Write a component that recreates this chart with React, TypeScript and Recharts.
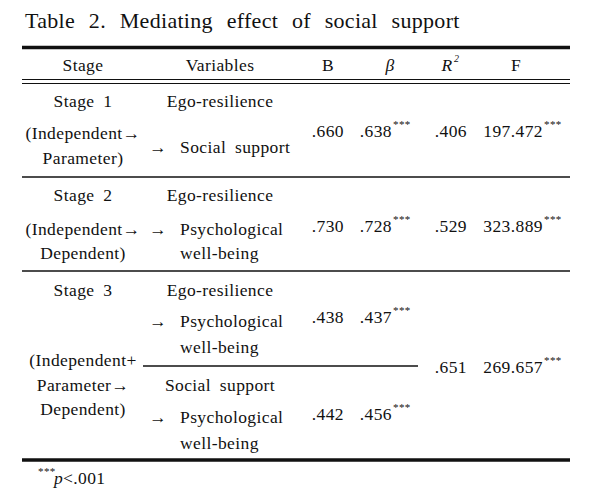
import { Surface, Layer } from "recharts";

// table content
const title = "Table 2. Mediating effect of social support";
const headers = ["Stage", "Variables", "B", "β", "R", "F"];
const stages = ["Stage 1", "Stage 2", "Stage 3"];
const stageNotes = [
  ["(Independent→", "Parameter)"],
  ["(Independent→", "Dependent)"],
  ["(Independent+", "Parameter→", "Dependent)"],
];
const predictors = ["Ego-resilience", "Ego-resilience", "Ego-resilience", "Social support"];
const outcomes = [
  ["Social support"],
  ["Psychological", "well-being"],
  ["Psychological", "well-being"],
  ["Psychological", "well-being"],
];
const bValues = [".660", ".730", ".438", ".442"];
const betaValues = [".638", ".728", ".437", ".456"];
const r2Values = [".406", ".529", ".651"];
const fValues = ["197.472", "323.889", "269.657"];
const stars = "***";
const note = "p<.001";

// layout (page pixels)
const W = 604;
const H = 504;
const LEFT = 22;
const RIGHT = 570;
const SERIF = "Liberation Serif";
const FS = 17.5;
const INK = "#111";

const colStage = 83;
const colVarCenter = 220;
const colArrow = 149;
const colVarText = 180;
const colBEnd = 344;
const colBetaEnd = 392;
const colR2End = 467;
const colFEnd = 543;

const stageY = [101, 195, 290];
const noteY = [
  [133, 158],
  [229, 253],
  [360, 385, 409],
];
const predY = [101, 195, 290, 385];
const outY = [[147], [229, 253], [321, 347], [417, 443]];
const valY = [131, 226, 317, 414];
const fitY = [131, 226, 367];

function label(
  key: string,
  x: number,
  y: number,
  content: string,
  anchor: "start" | "middle" | "end" = "start",
  size: number = FS,
  italic = false
) {
  return (
    <text
      key={key}
      x={x}
      y={y}
      dy="0.355em"
      textAnchor={anchor}
      fontFamily={SERIF}
      fontSize={size}
      fontStyle={italic ? "italic" : undefined}
      fill={INK}
      letterSpacing={0.4}
      wordSpacing={4}
    >
      {content}
    </text>
  );
}

const star = (key: string, x: number, y: number) => label(key, x, y - 7, stars, "start", 11);

const rule = (key: string, x1: number, x2: number, y: number, w: number) => (
  <line key={key} x1={x1} x2={x2} y1={y} y2={y} stroke={INK} strokeWidth={w} />
);

export default function App() {
  return (
    <div style={{ position: "absolute", left: 0, top: 0, fontFamily: SERIF }}>
      <Surface width={W} height={H} viewBox={{ x: 0, y: 0, width: W, height: H }}>
        <rect x={0} y={0} width={W} height={H} fill="#fff" />
        <g fontFamily={SERIF}>
          <text x={25} y={20} dy="0.355em" fontFamily={SERIF} fontSize={22} fill={INK} letterSpacing={0.3} wordSpacing={8}>
            {title}
          </text>

          <Layer>
            {rule("r0", LEFT, RIGHT, 47.5, 3.5)}
            {rule("r1", LEFT, RIGHT, 79.5, 1.2)}
            {rule("r2", LEFT, RIGHT, 83.5, 1.2)}
            {rule("r3", LEFT, RIGHT, 177, 1.4)}
            {rule("r4", LEFT, RIGHT, 271, 1.4)}
            {rule("r5", 143, 418, 366, 1.4)}
            {rule("r6", LEFT, RIGHT, 460, 3.5)}
          </Layer>

          <Layer>
            {label("h0", colStage, 65, headers[0], "middle")}
            {label("h1", colVarCenter, 65, headers[1], "middle")}
            {label("h2", 328, 65, headers[2], "middle")}
            {label("h3", 390, 65, headers[3], "middle", FS, true)}
            {label("h4", 447, 65, headers[4], "middle", FS, true)}
            {label("h4s", 454, 58, "2", "start", 10, true)}
            {label("h5", 516, 65, headers[5], "middle")}
          </Layer>

          <Layer>
            {stages.map((s, i) => label(`st-${i}`, colStage, stageY[i], s, "middle"))}
            {stageNotes.map((lines, i) =>
              lines.map((ln, j) => label(`sn-${i}-${j}`, colStage, noteY[i][j], ln, "middle"))
            )}
          </Layer>

          <Layer>
            {predictors.map((p, i) => label(`pr-${i}`, colVarCenter, predY[i], p, "middle"))}
            {outcomes.map((lines, i) => [
              label(`oa-${i}`, colArrow, outY[i][0], "→"),
              ...lines.map((ln, j) => label(`ol-${i}-${j}`, colVarText, outY[i][j], ln)),
            ])}
          </Layer>

          <Layer>
            {bValues.map((v, i) => label(`b-${i}`, colBEnd, valY[i], v, "end"))}
            {betaValues.map((v, i) => [
              label(`be-${i}`, colBetaEnd, valY[i], v, "end"),
              star(`bs-${i}`, colBetaEnd + 1, valY[i]),
            ])}
            {r2Values.map((v, i) => label(`r-${i}`, colR2End, fitY[i], v, "end"))}
            {fValues.map((v, i) => [
              label(`f-${i}`, colFEnd, fitY[i], v, "end"),
              star(`fs-${i}`, colFEnd + 1, fitY[i]),
            ])}
          </Layer>

          <Layer>
            {star("ns", 38, 478)}
            {label("np", 54, 478, note.slice(0, 1), "start", FS, true)}
            {label("nr", 63, 478, note.slice(1))}
          </Layer>
        </g>
      </Surface>
    </div>
  );
}
